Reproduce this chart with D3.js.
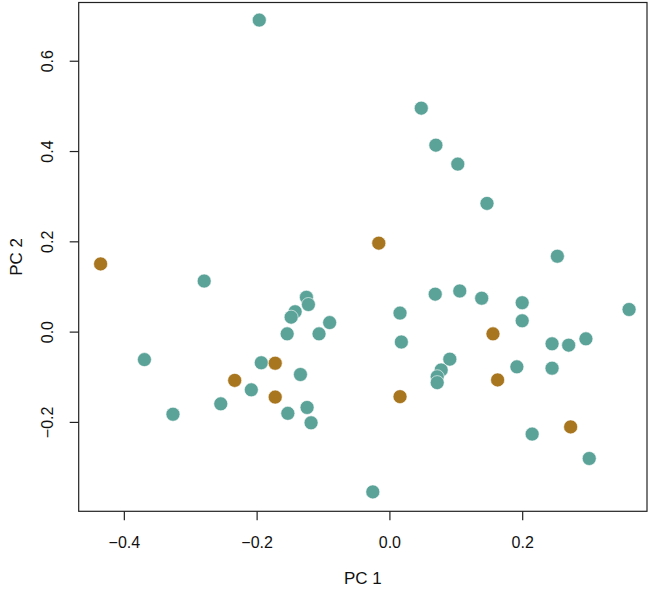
<!DOCTYPE html>
<html>
<head>
<meta charset="utf-8">
<script src="https://cdn.jsdelivr.net/npm/d3@7"></script>
<style>
  body { margin: 0; background: #fff; }
  svg { display: block; font-family: "Liberation Sans", Arial, sans-serif; }
</style>
</head>
<body>
<div id="container"></div>
<script>
const width = 650;
const height = 590;

// PC scores, group A (teal)
const pc1A = [-0.196, 0.048, 0.070, 0.103, 0.147, 0.253, -0.279, 0.361, 0.069, 0.106,
    0.139, 0.200, 0.200, 0.016, 0.018, -0.125, -0.122, -0.142, -0.148, -0.154,
    -0.090, -0.106, -0.369, -0.193, -0.134, -0.208, -0.254, -0.326, -0.153, -0.124,
    -0.118, -0.025, 0.091, 0.078, 0.072, 0.072, 0.192, 0.245, 0.270, 0.296,
    0.245, 0.215, 0.301];
const pc2A = [0.690, 0.495, 0.413, 0.371, 0.284, 0.167, 0.112, 0.049, 0.083, 0.090,
    0.074, 0.064, 0.024, 0.041, -0.023, 0.076, 0.060, 0.044, 0.032, -0.005,
    0.020, -0.005, -0.062, -0.069, -0.095, -0.129, -0.160, -0.183, -0.181, -0.168,
    -0.202, -0.355, -0.061, -0.085, -0.100, -0.113, -0.078, -0.027, -0.030, -0.016,
    -0.081, -0.227, -0.281];

// PC scores, group B (brown)
const pc1B = [-0.435, -0.016, 0.156, 0.163, 0.016, 0.273, -0.172, -0.233, -0.172];
const pc2B = [0.150, 0.196, -0.005, -0.107, -0.144, -0.211, -0.070, -0.108, -0.145];

const xTicks = [-0.4, -0.2, 0.0, 0.2];
const yTicks = [-0.2, 0.0, 0.2, 0.4, 0.6];

const box = { left: 78.7, right: 647, top: 2.5, bottom: 511.3 };

let x = d3.scaleLinear().domain([-0.468, 0.388]).range([box.left, box.right]);
let y = d3.scaleLinear().domain([-0.398, 0.729]).range([box.bottom, box.top]);

const fmt = v => d3.format('.1f')(v).replace('-', '\u2212');

let svg = d3.select('#container').append('svg')
    .attr('width', width)
    .attr('height', height);

// box
svg.append('rect')
    .attr('x', box.left)
    .attr('y', box.top)
    .attr('width', box.right - box.left)
    .attr('height', box.bottom - box.top)
    .attr('fill', 'none')
    .attr('stroke', '#222')
    .attr('stroke-width', 1.2);

// x axis
let xAxis = d3.axisBottom(x).tickValues(xTicks).tickSize(9).tickPadding(16).tickFormat(fmt);
let gx = svg.append('g')
    .attr('transform', `translate(0,${box.bottom})`)
    .call(xAxis);
gx.select('.domain').remove();
gx.selectAll('line').attr('stroke', '#222').attr('stroke-width', 1.2);
gx.selectAll('text').attr('font-size', 16).attr('fill', '#111').attr('font-family', null);

// y axis, labels rotated like R
let yAxis = d3.axisLeft(y).tickValues(yTicks).tickSize(9).tickFormat(fmt);
let gy = svg.append('g')
    .attr('transform', `translate(${box.left},0)`)
    .call(yAxis);
gy.select('.domain').remove();
gy.selectAll('line').attr('stroke', '#222').attr('stroke-width', 1.2);
gy.selectAll('text')
    .attr('font-size', 16)
    .attr('fill', '#111')
    .attr('font-family', null)
    .attr('x', null)
    .attr('dy', null)
    .attr('text-anchor', 'middle')
    .attr('transform', 'translate(-26,0) rotate(-90)');

// axis titles
svg.append('text')
    .attr('x', (box.left + box.right) / 2)
    .attr('y', 584)
    .attr('text-anchor', 'middle')
    .attr('font-size', 17)
    .attr('fill', '#111')
    .text('PC 1');

svg.append('text')
    .attr('transform', `translate(22,${(box.top + box.bottom) / 2}) rotate(-90)`)
    .attr('text-anchor', 'middle')
    .attr('font-size', 17)
    .attr('fill', '#111')
    .text('PC 2');

// points
const groups = [
    { xs: pc1A, ys: pc2A, color: '#5ba398' },
    { xs: pc1B, ys: pc2B, color: '#a8761f' }
];

groups.forEach(g => {
    svg.append('g')
        .selectAll('circle')
        .data(g.xs.map((v, i) => ({ pc1: v, pc2: g.ys[i] })))
        .join('circle')
        .attr('cx', d => x(d.pc1))
        .attr('cy', d => y(d.pc2))
        .attr('r', 7)
        .attr('fill', g.color)
        .attr('stroke', '#fff')
        .attr('stroke-width', 0.6);
});
</script>
</body>
</html>
